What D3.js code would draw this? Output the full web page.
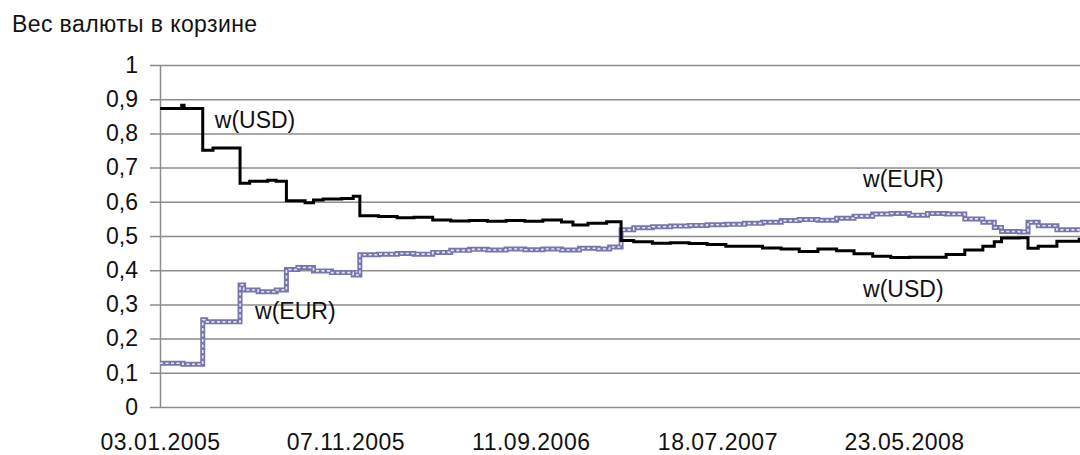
<html>
<head>
	<meta charset="utf-8">
	<script src="https://d3js.org/d3.v7.min.js"></script>
	<style>
		body { margin: 0; background: #fff; }
		text { font-family: Arial, "Liberation Sans", sans-serif; fill: #111; }
	</style>
</head>
<body>
	<div id="viz"></div>

	<script>
	// chart values
	var title = "Вес валюты в корзине";
	var xTickLabels = ["03.01.2005", "07.11.2005", "11.09.2006", "18.07.2007", "23.05.2008"];
	var yTicks = [0, 0.1, 0.2, 0.3, 0.4, 0.5, 0.6, 0.7, 0.8, 0.9, 1];

	var usdDates = ["03.01.2005","08.02.2005","12.02.2005","15.03.2005","01.04.2005","16.05.2005","01.06.2005","01.07.2005","15.07.2005",
		"01.08.2005","01.09.2005","15.09.2005","01.10.2005","01.11.2005","20.11.2005","01.12.2005","01.01.2006","01.02.2006",
		"01.03.2006","01.04.2006","01.05.2006","01.06.2006","01.07.2006","01.08.2006","01.09.2006","01.10.2006","01.11.2006",
		"20.11.2006","15.12.2006","15.01.2007","08.02.2007","01.03.2007","01.04.2007","01.05.2007","01.06.2007","01.07.2007",
		"01.08.2007","01.09.2007","01.10.2007","01.11.2007","01.12.2007","01.01.2008","01.02.2008","01.03.2008","01.04.2008",
		"01.05.2008","01.06.2008","01.07.2008","01.08.2008","01.09.2008","01.10.2008","20.10.2008","01.11.2008","01.12.2008",
		"15.12.2008","01.01.2009","01.02.2009","10.03.2009"];
	var usdValues = [0.873,0.882,0.873,0.751,0.757,0.654,0.660,0.663,0.660,
		0.603,0.597,0.605,0.608,0.610,0.616,0.559,0.557,0.553,
		0.555,0.547,0.544,0.545,0.543,0.545,0.543,0.547,0.541,
		0.532,0.537,0.542,0.487,0.483,0.479,0.480,0.478,0.475,
		0.470,0.470,0.465,0.462,0.455,0.462,0.457,0.448,0.441,
		0.437,0.438,0.438,0.446,0.459,0.470,0.483,0.494,0.495,
		0.464,0.470,0.485,0.495];

	var eurDates = ["03.01.2005","10.02.2005","15.03.2005","20.03.2005","16.05.2005","22.05.2005","15.06.2005","15.07.2005",
		"01.08.2005","20.08.2005","15.09.2005","15.10.2005","20.11.2005","01.12.2005","01.01.2006","01.02.2006","01.03.2006",
		"01.04.2006","01.05.2006","01.06.2006","01.07.2006","01.08.2006","01.09.2006","01.10.2006","01.11.2006","01.12.2006",
		"01.01.2007","20.01.2007","08.02.2007","01.03.2007","01.04.2007","01.05.2007","01.06.2007","01.07.2007","01.08.2007",
		"01.09.2007","01.10.2007","01.11.2007","01.12.2007","01.01.2008","01.02.2008","01.03.2008","01.04.2008","01.05.2008",
		"01.06.2008","01.07.2008","01.08.2008","01.09.2008","01.10.2008","20.10.2008","01.11.2008","01.12.2008","15.12.2008",
		"01.01.2009","01.02.2009","10.03.2009"];
	var eurValues = [0.128,0.125,0.255,0.249,0.357,0.342,0.337,0.342,
		0.402,0.408,0.398,0.393,0.386,0.445,0.447,0.449,0.447,
		0.452,0.458,0.461,0.459,0.462,0.460,0.462,0.459,0.464,
		0.462,0.468,0.518,0.524,0.527,0.529,0.531,0.533,0.534,
		0.537,0.540,0.545,0.548,0.546,0.552,0.558,0.564,0.566,
		0.561,0.566,0.564,0.550,0.540,0.525,0.513,0.512,0.540,
		0.530,0.518,0.513];

	// series labels placed on the plot
	var seriesLabels = [
		{text: "w(USD)", date: "04.04.2005", value: 0.815},
		{text: "w(EUR)", date: "10.06.2005", value: 0.257},
		{text: "w(EUR)", date: "16.03.2008", value: 0.643},
		{text: "w(USD)", date: "16.03.2008", value: 0.322}
	];

	var parse = d3.timeParse("%d.%m.%Y");
	var usd = usdDates.map(function(d, i) { return {date: parse(d), value: usdValues[i]}; });
	var eur = eurDates.map(function(d, i) { return {date: parse(d), value: eurValues[i]}; });

	var W = 1080, H = 455;
	var svg = d3.select("#viz").append("svg")
		.attr("width", W).attr("height", H);

	var x = d3.scaleTime()
		.domain([parse(xTickLabels[0]), parse(xTickLabels[4])])
		.range([160, 904]);
	var y = d3.scaleLinear().domain([0, 1]).range([407, 65]);

	svg.append("text")
		.attr("x", 12).attr("y", 32)
		.style("font-size", "23px")
		.style("letter-spacing", "0.4px")
		.text(title);

	// y axis + gridlines
	var yAxis = svg.append("g")
		.attr("transform", "translate(160,0)")
		.call(d3.axisLeft(y).tickValues(yTicks)
			.tickFormat(function(d) { return d3.format(".1~f")(d).replace(".", ","); })
			.tickSize(-(W - 160)).tickSizeOuter(0).tickPadding(22));
	yAxis.selectAll(".tick line").attr("x1", -10).attr("stroke", "#8c8c8c").attr("stroke-width", 1.5);
	yAxis.select(".domain").attr("stroke", "#8c8c8c").attr("stroke-width", 1.5);
	yAxis.selectAll("text").style("font-size", "23px").attr("fill", "#111");

	// x axis
	var xAxis = svg.append("g")
		.attr("transform", "translate(0,407)")
		.call(d3.axisBottom(x).tickValues(xTickLabels.map(parse))
			.tickFormat(d3.timeFormat("%d.%m.%Y"))
			.tickSize(0).tickPadding(27));
	xAxis.select(".domain").remove();
	xAxis.selectAll("text").style("font-size", "23px").style("letter-spacing", "0.5px").attr("fill", "#111");

	var line = d3.line()
		.x(function(d) { return x(d.date); })
		.y(function(d) { return y(d.value); })
		.curve(d3.curveStepAfter);

	// EUR: chain-like marker line
	svg.append("path").datum(eur)
		.attr("d", line).attr("fill", "none")
		.attr("stroke", "#7676ae").attr("stroke-width", 5);
	svg.append("path").datum(eur)
		.attr("d", line).attr("fill", "none")
		.attr("stroke", "#e6e6f2").attr("stroke-width", 1.6)
		.attr("stroke-dasharray", "3 2.5");

	// USD: thick black line
	svg.append("path").datum(usd)
		.attr("d", line).attr("fill", "none")
		.attr("stroke", "#000").attr("stroke-width", 3);

	svg.selectAll(".slabel").data(seriesLabels).enter().append("text")
		.attr("class", "slabel")
		.attr("x", function(d) { return x(parse(d.date)); })
		.attr("y", function(d) { return y(d.value); })
		.style("font-size", "23px")
		.text(function(d) { return d.text; });
	</script>
</body>
</html>
